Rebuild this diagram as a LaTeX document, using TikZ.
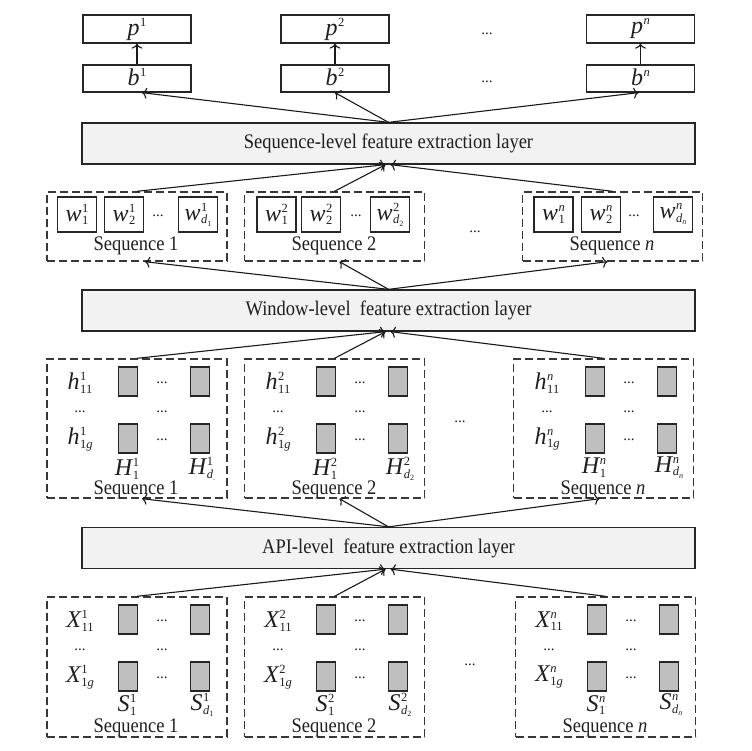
\documentclass[tikz,border=0pt]{standalone}
\usepackage{fontspec}
\usepackage{graphicx}
\setmainfont{Liberation Serif}
\usetikzlibrary{arrows.meta,calc}
\newcommand{\tall}[1]{\scalebox{1}[1.12]{#1}}
\newcommand{\mlab}[3]{{\fontsize{24}{24}\selectfont\itshape #1}\kern0.5pt\makebox[0pt][l]{\raisebox{9pt}{\fontsize{12.5}{12.5}\selectfont #2}}\raisebox{-3.5pt}{\fontsize{12.5}{12.5}\selectfont #3}}
\newcommand{\dsub}[1]{\textit{d}\raisebox{-2.5pt}{\fontsize{8}{8}\selectfont #1}}
\tikzset{
  txt/.style={inner sep=0pt, text=black!88},
  outbox/.style={draw=black!85, line width=1.3pt, fill=white, minimum width=108pt, minimum height=28pt, inner sep=0pt, text=black!88},
  layer/.style={draw=black!85, line width=1.3pt, fill=black!5, minimum width=613pt, minimum height=41pt, inner sep=0pt, text=black!88, font=\fontsize{18.5}{20}\selectfont},
  seqbox/.style={draw=black!78, line width=1.4pt, dash pattern=on 8pt off 4pt, minimum width=180pt, inner sep=0pt},
  wcell/.style={draw=black!85, line width=1.3pt, minimum width=39pt, minimum height=35pt, inner sep=0pt, text=black!88},
  gcell/.style={draw=black!85, fill=black!25, line width=1.3pt, minimum width=19pt, minimum height=29pt, inner sep=0pt},
  seqlab/.style={inner sep=0pt, text=black!88, font=\fontsize{18.5}{20}\selectfont},
  dotlab/.style={inner sep=0pt, text=black!88, font=\fontsize{15}{15}\selectfont},
  arr/.style={line width=1.1pt, draw=black!90, -{To[length=5pt,width=11pt]}}
}
% grid content of h / X boxes
\newcommand{\gridcontent}[9]{%
  \node[txt] (#1l1) at ({#2+33},{#3+24}) {\mlab{#4}{#5}{11}};
  \node[dotlab] (#1md1) at ({#2+33},{#3+53}) {...};
  \node[txt] (#1l2) at ({#2+33},{#3+80}) {\mlab{#4}{#5}{1\textit{g}}};
  \node[gcell] (#1c11) at ({#2+81},{#3+22.5}) {};
  \node[gcell] (#1c12) at ({#2+153},{#3+22.5}) {};
  \node[gcell] (#1c21) at ({#2+81},{#3+79.5}) {};
  \node[gcell] (#1c22) at ({#2+153},{#3+79.5}) {};
  \node[dotlab] (#1rd1) at ({#2+115},{#3+24}) {...};
  \node[dotlab] (#1md2) at ({#2+115},{#3+53}) {...};
  \node[dotlab] (#1rd2) at ({#2+115},{#3+81}) {...};
  \node[txt] (#1k1) at ({#2+80},{#3+#9}) {\mlab{#6}{#5}{1}};
  \node[txt] (#1k2) at ({#2+155},{#3+#9}) {\mlab{#6}{#5}{#7}};
  \node[seqlab] (#1s) at ({#2+89},{#3+130.5}) {\tall{#8}};
}
\newcommand{\wcontent}[8]{%
  \node[wcell] (#1a) at ({#2+#4},214.5) {\mlab{w}{#3}{1}};
  \node[wcell] (#1b) at ({#2+#5},214.5) {\mlab{w}{#3}{2}};
  \node[dotlab] (#1d) at ({#2+111},216) {...};
  \node[wcell] (#1c) at ({#2+#6},214.5) {\mlab{w}{#3}{#8}};
  \node[seqlab] (#1s) at ({#2+89},246) {\tall{#7}};
}
\begin{document}
\begin{tikzpicture}[x=1pt,y=-1pt]
\useasboundingbox (0,0) rectangle (752,750);
% output row
\node[outbox] (p1) at (137,29) {\mlab{p}{1}{\phantom{1}}};
\node[outbox] (p2) at (335,29) {\mlab{p}{2}{\phantom{1}}};
\node[outbox] (pn) at (640.5,29) {\mlab{p}{\textit{n}}{\phantom{1}}};
\node[dotlab] (pd) at (487,34) {...};
\node[outbox, minimum height=27pt] (b1) at (137,78.5) {\mlab{b}{1}{\phantom{1}}};
\node[outbox, minimum height=27pt] (b2) at (335,78.5) {\mlab{b}{2}{\phantom{1}}};
\node[outbox, minimum height=27pt] (bn) at (640.5,78.5) {\mlab{b}{\textit{n}}{\phantom{1}}};
\node[dotlab] (bd) at (487,82) {...};
% layers
\node[layer] (seq) at (388.5,143.5) {\tall{Sequence-level feature extraction layer}};
\node[layer] (win) at (388.5,310.5) {\tall{Window-level\ \ feature extraction layer}};
\node[layer] (api) at (388.5,548) {\tall{API-level\ \ feature extraction layer}};
% w boxes
\node[seqbox, minimum height=69pt] (W1) at (137,226.5) {};
\node[seqbox, minimum height=69pt] (W2) at (334.5,226.5) {};
\node[seqbox, minimum height=69pt] (Wn) at (612.5,226.5) {};
\wcontent{wA}{47}{1}{30}{77}{151}{Sequence 1}{\dsub{1}}
\wcontent{wB}{245}{2}{31.5}{76}{145}{Sequence 2}{\dsub{2}}
\wcontent{wN}{523}{\textit{n}}{30.5}{78}{150}{Sequence \textit{n}}{\dsub{\textit{n}}}
\node[dotlab] (wmid) at (475,232) {...};
% h boxes
\node[seqbox, minimum height=139pt] (H1) at (137,428.5) {};
\node[seqbox, minimum height=139pt] (H2) at (334.5,428.5) {};
\node[seqbox, minimum height=139pt] (Hn) at (603.5,428.5) {};
\gridcontent{hA}{47}{359}{h}{1}{H}{\textit{d}\raisebox{-2.5pt}{\fontsize{8}{8}\selectfont .}}{Sequence 1}{110}
\gridcontent{hB}{245}{359}{h}{2}{H}{\dsub{2}}{Sequence 2}{110}
\gridcontent{hN}{514}{359}{h}{\textit{n}}{H}{\dsub{\textit{n}}}{Sequence \textit{n}}{108.5}
\node[dotlab] (hmid) at (460,422) {...};
% X boxes
\node[seqbox, minimum height=140pt] (X1) at (137,667) {};
\node[seqbox, minimum height=140pt] (X2) at (334.5,667) {};
\node[seqbox, minimum height=140pt] (Xn) at (605.5,667) {};
\gridcontent{xA}{47}{597}{X}{1}{S}{\dsub{1}}{Sequence 1}{108}
\gridcontent{xB}{245}{597}{X}{2}{S}{\dsub{2}}{Sequence 2}{108}
\gridcontent{xN}{516}{597}{X}{\textit{n}}{S}{\dsub{\textit{n}}}{Sequence \textit{n}}{108}
\node[dotlab] (xmid) at (470,665) {...};
% arrows
\draw[arr] (b1.north) -- (p1.south);
\draw[arr] (b2.north) -- (p2.south);
\draw[arr] (bn.north) -- (pn.south);
\draw[arr] (seq.north) -- ($(b1.south)+(5,0)$);
\draw[arr] (seq.north) -- (b2.south);
\draw[arr] (seq.north) -- ($(bn.south)+(-2,0)$);
\draw[arr] (W1.north) -- ($(seq.south)+(-3,0)$);
\draw[arr] (W2.north) -- ($(seq.south)+(-3,0)$);
\draw[arr] (Wn.north) -- ($(seq.south)+(2,0)$);
\draw[arr] (win.north) -- ($(W1.south)+(8,0)$);
\draw[arr] (win.north) -- ($(W2.south)+(5,0)$);
\draw[arr] (win.north) -- ($(Wn.south)+(-5,0)$);
\draw[arr] (H1.north) -- ($(win.south)+(-3,0)$);
\draw[arr] (H2.north) -- ($(win.south)+(-3,0)$);
\draw[arr] (Hn.north) -- ($(win.south)+(2,0)$);
\draw[arr] (api.north) -- ($(H1.south)+(5,0)$);
\draw[arr] (api.north) -- ($(H2.south)+(5,0)$);
\draw[arr] (api.north) -- ($(Hn.south)+(-4,0)$);
\draw[arr] (X1.north) -- ($(api.south)+(-3,0)$);
\draw[arr] (X2.north) -- ($(api.south)+(-3,0)$);
\draw[arr] (Xn.north) -- ($(api.south)+(2,0)$);
\end{tikzpicture}
\end{document}
